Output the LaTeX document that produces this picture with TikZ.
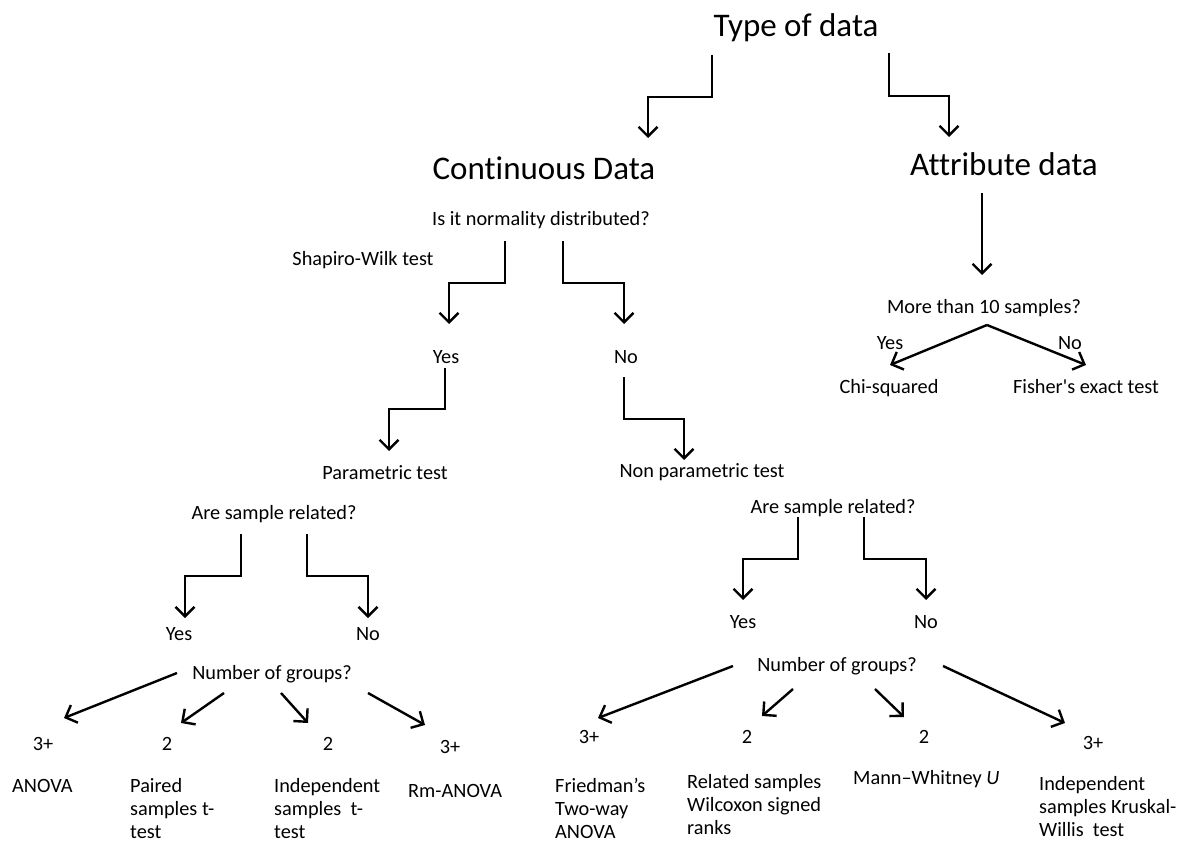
\documentclass[tikz,border=0pt]{standalone}
\usepackage{fontspec}
\setmainfont{Carlito}[Ligatures={TeX,NoCommon}]
\usetikzlibrary{arrows.meta}
\begin{document}
\begin{tikzpicture}[x=1pt,y=-1pt,
  big/.style={inner sep=0pt, font=\fontsize{33pt}{40pt}\selectfont, text height=21.3pt, text depth=0pt, anchor=center},
  small/.style={inner sep=0pt, font=\fontsize{20.3pt}{24.5pt}\selectfont, text height=13.1pt, text depth=0pt, anchor=center},
  leaf/.style={inner sep=0pt, font=\fontsize{20.3pt}{23pt}\selectfont, align=left, anchor=north west},
  arr/.style={line width=2.4pt, -{Straight Barb[length=9.5pt,width=19pt,line width=2.4pt]}}
]
\useasboundingbox[fill=white] (0,0) rectangle (1179,843);
% headings
\node[big] (type) at (796,26) {Type of data};
\node[big] (cont) at (544,169) {Continuous Data};
\node[big] (attr) at (1004,165) {Attribute data};
% continuous branch
\node[small] (norm) at (541,219) {Is it normality distributed?};
\node[small] (shap) at (363,259) {Shapiro-Wilk test};
\node[small] (yes1) at (446,357) {Yes};
\node[small] (no1) at (626,357) {No};
\node[small] (param) at (385,473) {Parametric test};
\node[small] (nonparam) at (702,471) {Non parametric test};
\node[small] (rel1) at (274,513) {Are sample related?};
\node[small] (yes2) at (179,634) {Yes};
\node[small] (no2) at (368,634) {No};
\node[small] (rel2) at (833,507) {Are sample related?};
\node[small] (yes3) at (743,622) {Yes};
\node[small] (no3) at (926,622) {No};
\node[small] (grp1) at (272,673) {Number of groups?};
\node[small] (grp2) at (837,665) {Number of groups?};
\node[small] (n1) at (43,744) {3+};
\node[small] (n2) at (167,744) {2};
\node[small] (n3) at (328,744) {2};
\node[small] (n4) at (450,747) {3+};
\node[small] (n5) at (589,737) {3+};
\node[small] (n6) at (747,737) {2};
\node[small] (n7) at (924,737) {2};
\node[small] (n8) at (1093,743) {3+};
% leaves
\node[leaf] (anova) at (12,777) {\rule{0pt}{15pt}ANOVA};
\node[leaf] (paired) at (130,777) {\rule{0pt}{15pt}Paired\\samples t-\\test};
\node[leaf] (indep) at (274,777) {\rule{0pt}{15pt}Independent\\samples\ \ t-\\test};
\node[leaf] (rm) at (408,782) {\rule{0pt}{15pt}Rm-ANOVA};
\node[leaf] (fried) at (555,777) {\rule{0pt}{15pt}Friedman’s\\Two-way\\ANOVA};
\node[leaf] (related) at (687,773.5) {\rule{0pt}{15pt}Related samples\\Wilcoxon signed\\ranks};
\node[leaf] (mann) at (853,769.5) {\rule{0pt}{15pt}Mann–Whitney \textit{U}};
\node[leaf] (krus) at (1039,775.5) {\rule{0pt}{15pt}Independent\\samples Kruskal-\\Willis\ \ test};
% attribute branch
\node[small] (more) at (984,307) {More than 10 samples?};
\node[small] (yesA) at (890,343) {Yes};
\node[small] (noA) at (1070,343) {No};
\node[small] (chi) at (889,387) {Chi-squared};
\node[small] (fish) at (1086,387) {Fisher\textquotesingle s exact test};
% elbow connectors
\draw[arr] ([shift={(-84,29)}]type.center) -- ++(0,42) -| ([shift={(104,-31)}]cont.center);
\draw[arr] ([shift={(93,27)}]type.center) -- ++(0,43) -| ([shift={(-55,-28)}]attr.center);
\draw[arr] ([shift={(-22,28)}]attr.center) -- ([shift={(-2,-32)}]more.center);
\draw[arr] ([shift={(-36,22)}]norm.center) -- ++(0,42) -| ([shift={(3,-33)}]yes1.center);
\draw[arr] ([shift={(22,22)}]norm.center) -- ++(0,42) -| ([shift={(-2,-33)}]no1.center);
\draw[arr] ([shift={(-1,11)}]yes1.center) -- ++(0,41) -| ([shift={(4,-22)}]param.center);
\draw[arr] ([shift={(-2,20)}]no1.center) -- ++(0,42) -| ([shift={(-18,-11)}]nonparam.center);
\draw[arr] ([shift={(-33,21)}]rel1.center) -- ++(0,42) -| ([shift={(6,-16)}]yes2.center);
\draw[arr] ([shift={(33,21)}]rel1.center) -- ++(0,42) -| ([shift={(0,-16)}]no2.center);
\draw[arr] ([shift={(-35,10)}]rel2.center) -- ++(0,42) -| ([shift={(0,-22)}]yes3.center);
\draw[arr] ([shift={(31,10)}]rel2.center) -- ++(0,42) -| ([shift={(0,-22)}]no3.center);
% straight connectors
\draw[arr] ([shift={(3,18)}]more.center) -- ([shift={(1,-22)}]chi.center);
\draw[arr] ([shift={(3,18)}]more.center) -- ([shift={(0,-22)}]fish.center);
\draw[arr] ([shift={(-95,0)}]grp1.center) -- ([shift={(21,-26)}]n1.center);
\draw[arr] ([shift={(-48,20)}]grp1.center) -- ([shift={(14,-21)}]n2.center);
\draw[arr] ([shift={(9,20)}]grp1.center) -- ([shift={(-20,-21)}]n3.center);
\draw[arr] ([shift={(96,20)}]grp1.center) -- ([shift={(-25,-22)}]n4.center);
\draw[arr] ([shift={(-104,1)}]grp2.center) -- ([shift={(9,-19)}]n5.center);
\draw[arr] ([shift={(-44,24)}]grp2.center) -- ([shift={(15,-21)}]n6.center);
\draw[arr] ([shift={(38,24)}]grp2.center) -- ([shift={(-20,-20)}]n7.center);
\draw[arr] ([shift={(106,1)}]grp2.center) -- ([shift={(-28,-20)}]n8.center);
\end{tikzpicture}
\end{document}
